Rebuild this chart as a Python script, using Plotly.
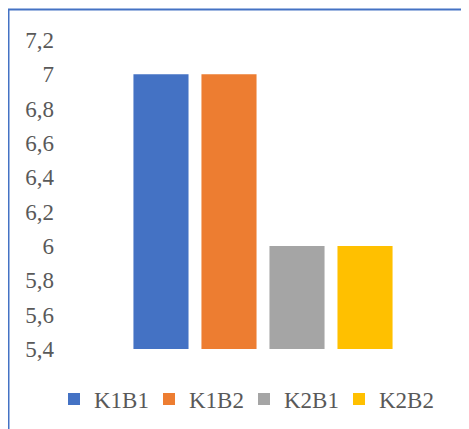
import plotly.graph_objects as go

series_names = ["K1B1", "K1B2", "K2B1", "K2B2"]
series_values = [7, 7, 6, 6]
series_colors = ["#4472C4", "#ED7D31", "#A5A5A5", "#FFC000"]
category = ["Group"]
tick_values = [5.4, 5.6, 5.8, 6.0, 6.2, 6.4, 6.6, 6.8, 7.0, 7.2]
tick_labels = ["5,4", "5,6", "5,8", "6", "6,2", "6,4", "6,6", "6,8", "7", "7,2"]

# figure coordinates (page is offset by the 8px body margin)
W, H = 469, 429
ML, MR, MT, MB = 57, 16, 32, 88
PW = W - ML - MR
PH = H - MT - MB

def px_x(px):
    return (px - ML) / PW

def px_y(py):
    return (H - MB - py) / PH

FONT = "Times New Roman, Liberation Serif, Tinos, DejaVu Serif, serif"

fig = go.Figure()
for name, val, col in zip(series_names, series_values, series_colors):
    fig.add_trace(go.Bar(name=name, x=category, y=[val], marker_color=col,
                         marker_line_width=0))

fig.update_layout(
    width=W, height=H,
    margin=dict(l=ML, r=MR, t=MT, b=MB, pad=0),
    paper_bgcolor="white", plot_bgcolor="white",
    barmode="group", bargap=0.313, bargroupgap=0.19,
    font=dict(family=FONT, size=23, color="#595959"),
    showlegend=True,
    legend=dict(orientation="h", x=px_x(46), xanchor="left", y=px_y(391), yanchor="middle",
                font=dict(family=FONT, size=23, color="#595959"),
                entrywidth=50, entrywidthmode="pixels",
                itemclick=False, traceorder="normal"),
    xaxis=dict(showticklabels=False, showgrid=False, zeroline=False, showline=False,
               ticks=""),
    yaxis=dict(range=[5.4, 7.2], tickvals=tick_values, ticktext=tick_labels,
               showgrid=False, zeroline=False, showline=False, ticks="",
               ticklabelstandoff=10),
    shapes=[
        dict(type="line", xref="paper", yref="paper", x0=px_x(0), x1=px_x(470),
             y0=px_y(1.5), y1=px_y(1.5), line=dict(color="#4472C4", width=2)),
        dict(type="line", xref="paper", yref="paper", x0=px_x(0.5), x1=px_x(0.5),
             y0=px_y(1.5), y1=px_y(430), line=dict(color="#4472C4", width=2)),
    ],
)

fig.write_html("out.html")
